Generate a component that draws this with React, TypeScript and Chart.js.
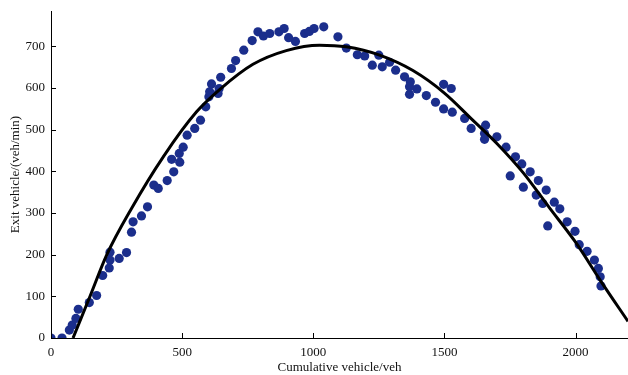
import React, { useEffect, useRef } from "react";
import { Chart, registerables } from "chart.js";

Chart.register(...registerables);

// Observed exit flow against cumulative vehicles
const obsCumulative = [
  0, 42, 70, 81, 95, 104, 146, 174, 197, 222, 225, 225, 260, 288, 307, 313, 345, 368,
  392, 409, 443, 468, 460, 491, 489, 504, 519, 548, 570, 590, 602, 605, 612, 637, 641,
  647, 688, 704, 735, 767, 789, 810, 834, 869, 889, 906, 932, 967, 985, 1003, 1040,
  1094, 1126, 1168, 1196, 1225, 1250, 1263, 1291, 1314, 1348, 1370, 1395, 1367, 1367,
  1431, 1466, 1497, 1497, 1526, 1530, 1577, 1602, 1657, 1653, 1653, 1700, 1735, 1751,
  1771, 1795, 1801, 1827, 1850, 1858, 1875, 1888, 1894, 1919, 1940, 1968, 1998, 2014,
  2044, 2072, 2087, 2094, 2097,
];
const obsExit = [
  0, 0, 19, 31, 47, 69, 85, 102, 150, 168, 187, 206, 191, 205, 254, 279, 293, 315,
  367, 359, 378, 399, 429, 422, 443, 458, 487, 503, 523, 555, 579, 591, 610, 587, 599,
  626, 647, 666, 691, 714, 735, 725, 731, 735, 743, 721, 712, 731, 736, 743, 747,
  723, 696, 680, 677, 655, 679, 651, 662, 643, 627, 615, 598, 585, 603,
  582, 566, 550, 609, 599, 542, 527, 503, 511, 491, 477, 483, 458, 389,
  435, 418, 362, 399, 343, 378, 323, 355, 269, 326, 310, 279, 256, 224,
  208, 187, 167, 147, 125,
];

// Fitted relation
const fitCumulative = [
  84, 150, 212, 307, 428, 555, 644, 770, 897, 1024, 1126, 1253, 1380, 1500, 1600, 1700,
  1800, 1900, 2000, 2100, 2200,
];
const fitExit = [
  0, 102, 199, 311, 435, 543, 597, 657, 690, 703, 699, 679, 642, 588, 528, 467,
  397, 313, 230, 133, 40,
];

const xTicks = [0, 500, 1000, 1500, 2000];
const yTicks = [0, 100, 200, 300, 400, 500, 600, 700];

const FONT = "'Liberation Serif', 'Times New Roman', serif";

// Draws short tick marks pointing into the plot area
const inwardTicks = {
  id: "inwardTicks",
  afterDraw(chart: any) {
    const { ctx, chartArea, scales } = chart;
    const len = 5;
    ctx.save();
    ctx.strokeStyle = "#000";
    ctx.lineWidth = 1;
    ctx.beginPath();
    for (const v of xTicks) {
      const x = Math.round(scales.x.getPixelForValue(v)) + 0.5;
      ctx.moveTo(x, chartArea.bottom);
      ctx.lineTo(x, chartArea.bottom - len);
    }
    for (const v of yTicks) {
      const y = Math.round(scales.y.getPixelForValue(v)) + 0.5;
      ctx.moveTo(chartArea.left, y);
      ctx.lineTo(chartArea.left + len, y);
    }
    ctx.stroke();
    ctx.restore();
  },
};

export default function App() {
  const ref = useRef<HTMLCanvasElement | null>(null);

  useEffect(() => {
    if (!ref.current) return;
    const chart = new Chart(ref.current, {
      type: "scatter",
      data: {
        datasets: [
          {
            label: "Fit",
            data: fitCumulative.map((x, i) => ({ x, y: fitExit[i] })),
            showLine: true,
            borderColor: "#000",
            borderWidth: 3,
            pointRadius: 0,
            cubicInterpolationMode: "monotone",
          },
          {
            label: "Observed",
            data: obsCumulative.map((x, i) => ({ x, y: obsExit[i] })),
            backgroundColor: "#1b2e8c",
            borderWidth: 0,
            pointRadius: 4.6,
          },
        ],
      },
      options: {
        animation: false,
        responsive: false,
        layout: { autoPadding: false, padding: { top: 11, right: 0, left: 0, bottom: 0 } },
        plugins: {
          legend: { display: false },
          tooltip: { enabled: false },
        },
        scales: {
          x: {
            type: "linear",
            min: 0,
            max: 2200,
            grid: { display: false, drawTicks: false },
            border: { display: true, color: "#000", width: 1 },
            afterBuildTicks(scale: any) {
              scale.ticks = xTicks.map((value) => ({ value }));
            },
            ticks: {
              autoSkip: false,
              maxRotation: 0,
              padding: 7,
              color: "#111",
              font: { family: FONT, size: 13 },
              callback: (v: any) => String(v),
            },
            title: {
              display: true,
              text: "Cumulative vehicle/veh",
              color: "#111",
              font: { family: FONT, size: 13 },
              padding: { top: 0, bottom: 0 },
            },
            afterFit(scale: any) {
              scale.height = 37;
              scale.paddingLeft = 0;
              scale.paddingRight = 0;
            },
          },
          y: {
            type: "linear",
            min: 0,
            max: 785,
            grid: { display: false, drawTicks: false },
            border: { display: true, color: "#000", width: 1 },
            afterBuildTicks(scale: any) {
              scale.ticks = yTicks.map((value) => ({ value }));
            },
            ticks: {
              autoSkip: false,
              padding: 6,
              color: "#111",
              font: { family: FONT, size: 13 },
              callback: (v: any) => String(v),
            },
            title: {
              display: true,
              text: "Exit vehicle/(veh/min)",
              color: "#111",
              font: { family: FONT, size: 13 },
              padding: { top: 8, bottom: 0 },
            },
            afterFit(scale: any) {
              scale.width = 51;
              scale.paddingTop = 0;
              scale.paddingBottom = 0;
            },
          },
        },
      },
      plugins: [inwardTicks],
    });
    return () => chart.destroy();
  }, []);

  return (
    <div
      style={{
        position: "absolute",
        left: 0,
        top: 0,
        width: 628,
        height: 375,
        background: "#fff",
      }}
    >
      <canvas ref={ref} width={628} height={375} />
    </div>
  );
}
